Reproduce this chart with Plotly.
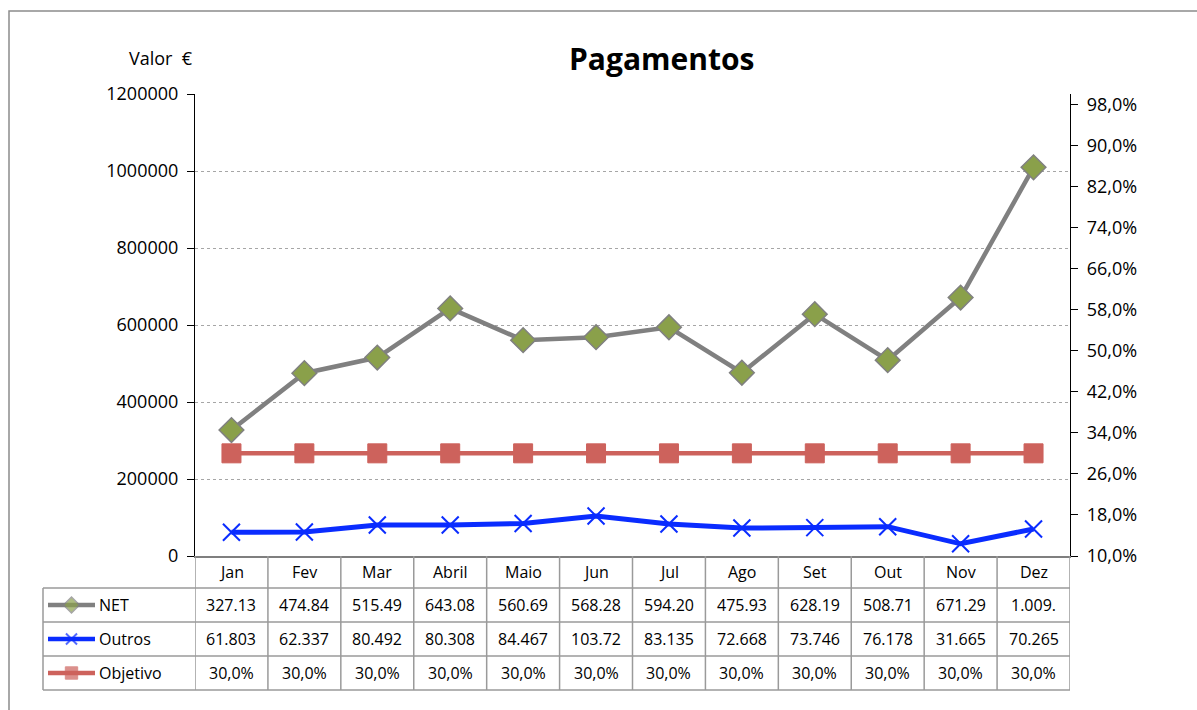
import plotly.graph_objects as go

W, H = 1197, 710
FONT = "Open Sans, Lato, sans-serif"

months = ["Jan", "Fev", "Mar", "Abril", "Maio", "Jun", "Jul", "Ago", "Set", "Out", "Nov", "Dez"]
net = [327130, 474840, 515490, 643080, 560690, 568280, 594200, 475930, 628190, 508710, 671290, 1009500]
outros = [61803, 62337, 80492, 80308, 84467, 103720, 83135, 72668, 73746, 76178, 31665, 70265]
objetivo = [30.0] * 12
net_txt = ["327.13", "474.84", "515.49", "643.08", "560.69", "568.28", "594.20", "475.93", "628.19", "508.71", "671.29", "1.009."]
outros_txt = ["61.803", "62.337", "80.492", "80.308", "84.467", "103.72", "83.135", "72.668", "73.746", "76.178", "31.665", "70.265"]
obj_txt = ["30,0%"] * 12
left_ticks = [0, 200000, 400000, 600000, 800000, 1000000, 1200000]
right_ticks = [10, 18, 26, 34, 42, 50, 58, 66, 74, 82, 90, 98]
right_labels = ["10,0%", "18,0%", "26,0%", "34,0%", "42,0%", "50,0%", "58,0%", "66,0%", "74,0%", "82,0%", "90,0%", "98,0%"]
series_names = ["NET", "Outros", "Objetivo"]

# pixel helpers
def px(x):
    return x / W

def py(y):
    return (H - y) / H

X0, X1, Y0, Y1 = 195, 1070, 94, 556
GRAY_LINE = "#808080"
NET_FILL = "#8aa04a"
BLUE = "#0a2cff"
RED = "#cd625c"

styles = [
    dict(line=dict(color=GRAY_LINE, width=4.5),
         marker=dict(symbol="diamond", size=19, color=NET_FILL, line=dict(color=GRAY_LINE, width=1.5))),
    dict(line=dict(color=BLUE, width=5),
         marker=dict(symbol="x-thin", size=17, color=BLUE, line=dict(color=BLUE, width=2))),
    dict(line=dict(color=RED, width=4.5),
         marker=dict(symbol="square", size=19, color=RED, line=dict(color=RED, width=1))),
]

fig = go.Figure()
idx = list(range(12))
fig.add_trace(go.Scatter(x=idx, y=net, mode="lines+markers", name="NET", **styles[0], xaxis="x", yaxis="y"))
fig.add_trace(go.Scatter(x=idx, y=outros, mode="lines+markers", name="Outros", **styles[1], xaxis="x", yaxis="y"))
fig.add_trace(go.Scatter(x=idx, y=objetivo, mode="lines+markers", name="Objetivo", **styles[2], xaxis="x", yaxis="y2"))

# legend keys in the data table
for i, st in enumerate(styles):
    m = dict(st["marker"])
    m["size"] = [0, m["size"] * 0.65, 0]
    fig.add_trace(go.Scatter(x=[0, 1, 2], y=[i, i, i], mode="lines+markers",
                             line=dict(color=st["line"]["color"], width=4.5),
                             marker=m, xaxis="x3", yaxis="y3", hoverinfo="skip"))

ROW_TOP = [556, 588, 622, 656, 690]
shapes = []
annotations = []
TL = dict(color="#9a9a9a", width=1.5)

# frame
shapes.append(dict(type="rect", xref="paper", yref="paper", x0=px(9), x1=1.01, y0=-0.01, y1=py(11),
                   line=dict(color="#8c8c8c", width=1.5)))
# horizontal table lines
for yy in ROW_TOP[1:]:
    shapes.append(dict(type="line", xref="paper", yref="paper", x0=px(43), x1=px(X1), y0=py(yy), y1=py(yy), line=TL))
# vertical table lines
shapes.append(dict(type="line", xref="paper", yref="paper", x0=px(43), x1=px(43), y0=py(588), y1=py(690), line=TL))
for k in range(13):
    shapes.append(dict(type="line", xref="x", yref="paper", x0=k - 0.5, x1=k - 0.5, y0=py(556), y1=py(690), line=TL))

# table text
rows = [months, net_txt, outros_txt, obj_txt]
for r, vals in enumerate(rows):
    yc = (ROW_TOP[r] + ROW_TOP[r + 1]) / 2
    for k, v in enumerate(vals):
        annotations.append(dict(x=k, y=py(yc), xref="x", yref="paper", text=v, showarrow=False,
                                font=dict(size=16, color="#000"), xanchor="center", yanchor="middle"))
for r, name in enumerate(series_names):
    yc = (ROW_TOP[r + 1] + ROW_TOP[r + 2]) / 2
    annotations.append(dict(x=px(97), y=py(yc), xref="paper", yref="paper", text=name, showarrow=False,
                            font=dict(size=16, color="#000"), xanchor="left", yanchor="middle"))

annotations.append(dict(x=px(661), y=py(58), xref="paper", yref="paper", text="<b>Pagamentos</b>",
                        showarrow=False, font=dict(size=30, color="#000"), xanchor="center", yanchor="middle"))
annotations.append(dict(x=px(161), y=py(58), xref="paper", yref="paper", text="Valor  €",
                        showarrow=False, font=dict(size=18, color="#000"), xanchor="center", yanchor="middle"))

fig.update_layout(
    width=W, height=H,
    margin=dict(l=0, r=0, t=0, b=0, pad=0, autoexpand=False),
    paper_bgcolor="white", plot_bgcolor="white",
    font=dict(family=FONT, size=18, color="#000"),
    showlegend=False,
    shapes=shapes, annotations=annotations,
    xaxis=dict(domain=[px(X0), px(X1)], range=[-0.5, 11.5], showticklabels=False, showgrid=False,
               zeroline=False, showline=True, linecolor="#7f7f7f", linewidth=1.5, ticks="", anchor="y",
               fixedrange=True, automargin=False),
    yaxis=dict(domain=[py(Y1), py(Y0)], range=[0, 1200000], tickvals=left_ticks,
               ticktext=[str(v) for v in left_ticks], showgrid=True, gridcolor="#a6a6a6", griddash="dot",
               gridwidth=1, zeroline=False, showline=True, linecolor="#000", linewidth=1.2,
               ticks="outside", ticklen=7, tickcolor="#000", anchor="x", ticklabelstandoff=5,
               tickfont=dict(size=18), automargin=False),
    yaxis2=dict(domain=[py(Y1), py(Y0)], range=[10, 100], overlaying="y", side="right", anchor="x",
                tickvals=right_ticks, ticktext=right_labels, showgrid=False, zeroline=False,
                showline=True, linecolor="#000", linewidth=1.2, ticks="outside", ticklen=7,
                tickcolor="#000", ticklabelstandoff=5, tickfont=dict(size=18), automargin=False),
    xaxis3=dict(domain=[px(48), px(95)], range=[0, 2], visible=False, anchor="y3", fixedrange=True,
                automargin=False),
    yaxis3=dict(domain=[py(690), py(588)], range=[2.5, -0.5], visible=False, anchor="x3", fixedrange=True,
                automargin=False),
)

fig.write_html("out.html", config={"displayModeBar": False},
               post_script="document.body.style.margin='0';document.body.style.padding='0';")
